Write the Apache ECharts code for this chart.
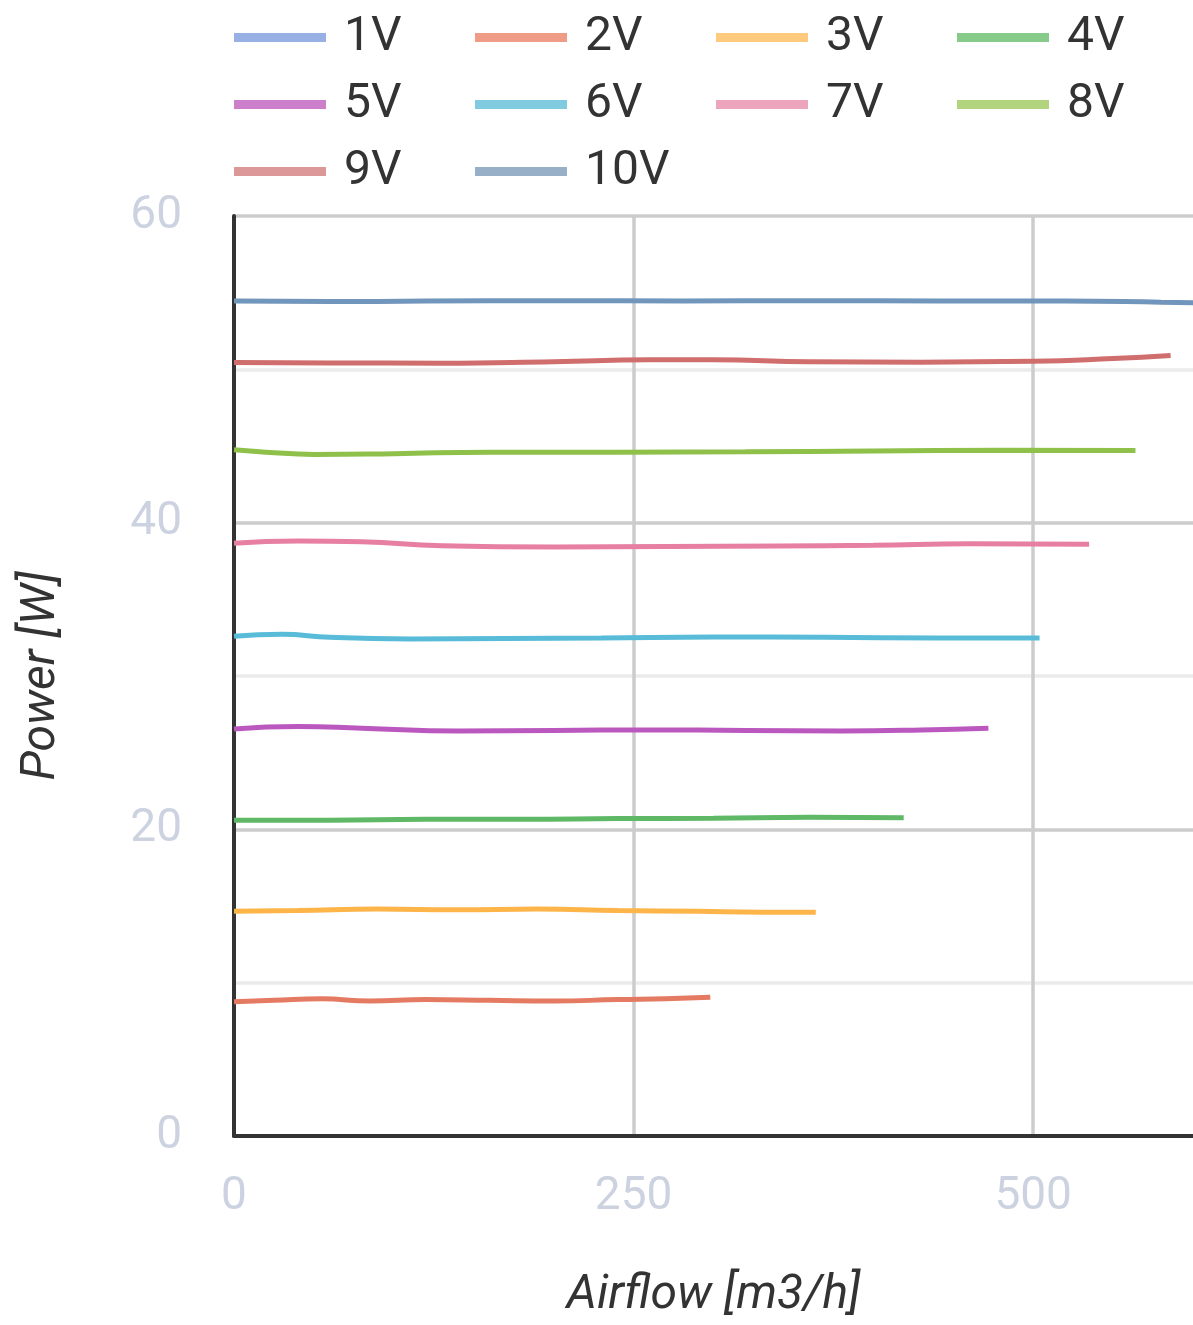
<!DOCTYPE html>
<html>
<head>
<meta charset="utf-8">
<script src="https://cdn.jsdelivr.net/npm/echarts@6/dist/echarts.min.js"></script>
<style>
    html, body { margin: 0; padding: 0; background: #fff; }
    #chart { width: 1193px; height: 1325px; }
</style>
</head>
<body>
<div id="chart"></div>
<script>
    // series names, in legend order
    var voltages = ['1V', '2V', '3V', '4V', '5V', '6V', '7V', '8V', '9V', '10V'];

    // airflow [m3/h] and power [W]
    var airflow1V = [];
    var power1V = [];
    var airflow2V = [0, 25, 55, 85, 120, 160, 200, 240, 270, 298];
    var power2V = [8.75, 8.85, 8.95, 8.8, 8.9, 8.85, 8.8, 8.9, 8.95, 9.05];
    var airflow3V = [0, 40, 90, 140, 190, 240, 290, 330, 364];
    var power3V = [14.65, 14.7, 14.8, 14.75, 14.8, 14.7, 14.65, 14.6, 14.6];
    var airflow4V = [0, 60, 120, 180, 240, 300, 360, 419];
    var power4V = [20.6, 20.6, 20.65, 20.65, 20.7, 20.72, 20.78, 20.75];
    var airflow5V = [0, 40, 80, 140, 200, 260, 320, 380, 430, 472];
    var power5V = [26.55, 26.7, 26.6, 26.42, 26.45, 26.48, 26.45, 26.42, 26.48, 26.6];
    var airflow6V = [0, 30, 60, 110, 170, 230, 300, 370, 440, 504];
    var power6V = [32.6, 32.72, 32.52, 32.42, 32.45, 32.48, 32.55, 32.52, 32.48, 32.48];
    var airflow7V = [0, 40, 80, 130, 200, 270, 340, 400, 460, 535];
    var power7V = [38.65, 38.8, 38.75, 38.5, 38.42, 38.45, 38.48, 38.52, 38.62, 38.6];
    var airflow8V = [0, 20, 50, 100, 160, 240, 320, 400, 480, 564];
    var power8V = [44.75, 44.6, 44.45, 44.5, 44.6, 44.6, 44.62, 44.68, 44.72, 44.7];
    var airflow9V = [0, 60, 130, 200, 260, 300, 360, 430, 500, 550, 586];
    var power9V = [50.45, 50.42, 50.4, 50.5, 50.62, 50.62, 50.5, 50.47, 50.52, 50.7, 50.9];
    var airflow10V = [0, 60, 120, 200, 280, 360, 440, 520, 580, 620];
    var power10V = [54.45, 54.42, 54.45, 54.48, 54.45, 54.48, 54.45, 54.45, 54.38, 54.32];

    var airflows = [airflow1V, airflow2V, airflow3V, airflow4V, airflow5V, airflow6V, airflow7V, airflow8V, airflow9V, airflow10V];
    var powers = [power1V, power2V, power3V, power4V, power5V, power6V, power7V, power8V, power9V, power10V];

    var lineColors = ['#7f9fe0', '#e57a62', '#fdb54a', '#5fb866', '#bb58bf', '#58bbd8', '#e67fa2', '#8ec04a', '#d06d6d', '#7196bb'];
    var legendColors = ['#97b1e4', '#ef9c86', '#fecb7e', '#86cb8a', '#cc80cc', '#80cbe0', '#eda4bd', '#b3d47f', '#dc9799', '#97b0c8'];

    var xTicks = [0, 250, 500];
    var yTicks = [0, 20, 40, 60];

    var font = 'Roboto, "Noto Sans", sans-serif';

    var series = voltages.map(function (name, i) {
        return {
            name: name,
            type: 'line',
            smooth: true,
            showSymbol: false,
            symbol: 'none',
            lineStyle: { width: 5, color: lineColors[i] },
            itemStyle: { color: lineColors[i] },
            data: airflows[i].map(function (x, j) { return [x, powers[i][j]]; })
        };
    });

    var option = {
        animation: false,
        backgroundColor: '#fff',
        legend: {
            left: 234,
            top: 4,
            width: 970,
            padding: 0,
            itemGap: 0,
            icon: 'rect',
            itemWidth: 92,
            itemHeight: 9,
            data: voltages.map(function (name, i) {
                return { name: name, itemStyle: { color: legendColors[i] } };
            }),
            textStyle: {
                fontFamily: font,
                fontSize: 48,
                color: '#333',
                padding: [0, 0, 0, 13],
                width: 131,
                lineHeight: 67
            }
        },
        grid: {
            left: 234,
            right: -3,
            top: 216,
            bottom: 185
        },
        xAxis: {
            type: 'value',
            min: 0,
            max: 600,
            interval: 250,
            name: 'Airflow [m3/h]',
            nameLocation: 'middle',
            nameGap: 136,
            nameTextStyle: { fontFamily: font, fontSize: 48, fontStyle: 'italic', color: '#333' },
            axisLine: { show: true, onZero: false, lineStyle: { color: '#333', width: 4 } },
            axisTick: { show: false },
            axisLabel: {
                fontFamily: font, fontSize: 46, color: '#ccd2e0', margin: 38,
                showMaxLabel: false,
                formatter: function (v) { return xTicks.indexOf(v) >= 0 ? String(v) : ''; }
            },
            splitLine: { show: true, showMinLine: false, showMaxLine: false, lineStyle: { color: '#cccccc', width: 3.5 } }
        },
        yAxis: {
            type: 'value',
            min: 0,
            max: 60,
            interval: 20,
            name: 'Power [W]',
            nameLocation: 'middle',
            nameGap: 168,
            nameTextStyle: { fontFamily: font, fontSize: 48, fontStyle: 'italic', color: '#333' },
            axisLine: { show: true, lineStyle: { color: '#333', width: 4 } },
            axisTick: { show: false },
            axisLabel: {
                fontFamily: font, fontSize: 46, color: '#ccd2e0', margin: 52,
                formatter: function (v) { return yTicks.indexOf(v) >= 0 ? String(v) : ''; }
            },
            splitLine: { show: true, lineStyle: { color: '#cccccc', width: 3.5 } },
            minorTick: { show: false, splitNumber: 2 },
            minorSplitLine: { show: true, lineStyle: { color: '#ebebeb', width: 3.5 } }
        },
        series: series
    };

    var chart = echarts.init(document.getElementById('chart'));
    chart.setOption(option);
</script>
</body>
</html>
